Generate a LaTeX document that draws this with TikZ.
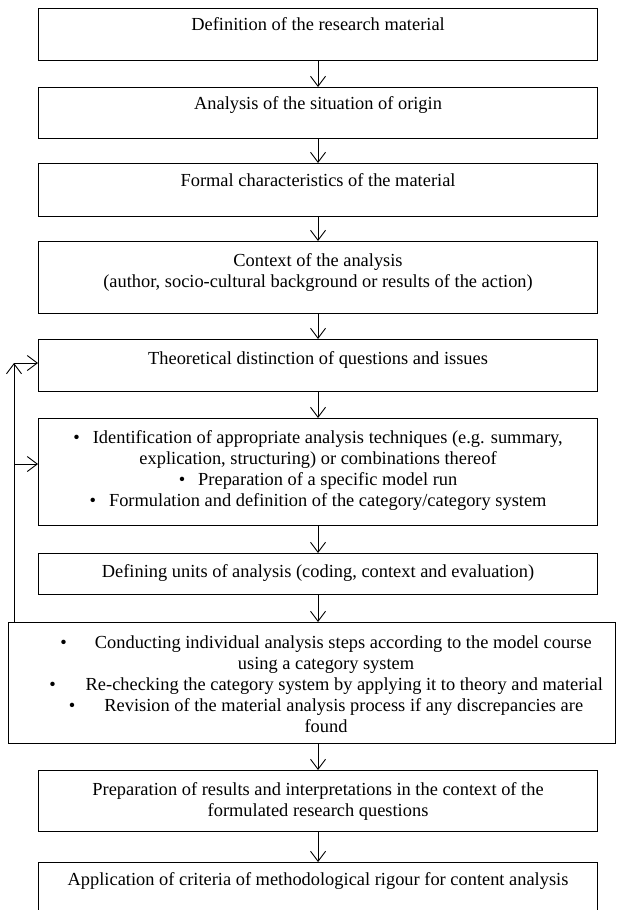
\documentclass[tikz,border=0pt]{standalone}
\usepackage{fontspec}
\setmainfont{Liberation Serif}
\usetikzlibrary{arrows.meta}
\begin{document}
\begin{tikzpicture}[x=1pt,y=-1pt,
  box/.style={draw=black, line width=1.1pt, rectangle, inner sep=0pt, anchor=north west, minimum width=559pt},
  txt/.style={anchor=north, align=center, inner sep=0pt, font=\fontsize{18.4}{21}\selectfont},
  flow/.style={draw=black, line width=0.9pt, -{Straight Barb[length=10pt,width=15pt,line width=0.9pt]}}
]
\useasboundingbox (0,0) rectangle (616,910);
\clip (0,0) rectangle (616,910);
% boxes
\node[box, minimum height=52pt] (b1) at (38,8) {};
\node[box, minimum height=51pt] (b2) at (38,87) {};
\node[box, minimum height=53pt] (b3) at (38,163) {};
\node[box, minimum height=72pt] (b4) at (38,241) {};
\node[box, minimum height=52pt] (b5) at (38,339) {};
\node[box, minimum height=107pt] (b6) at (38,418) {};
\node[box, minimum height=41pt] (b7) at (38,553) {};
\node[box, minimum width=607pt, minimum height=121pt] (b8) at (8,622) {};
\node[box, minimum height=61pt] (b9) at (38,770) {};
\node[box, minimum height=70pt] (b10) at (38,862) {};
% texts
\node[txt] (t1) at ([yshift=-8pt]b1.north) {\strut Definition of the research material};
\node[txt] (t2) at ([yshift=-8pt]b2.north) {\strut Analysis of the situation of origin};
\node[txt] (t3) at ([yshift=-9pt]b3.north) {\strut Formal characteristics of the material};
\node[txt] (t4) at ([yshift=-11pt]b4.north) {\strut Context of the analysis\\
  \strut (author, socio-cultural background or results of the action)};
\node[txt] (t5) at ([yshift=-11pt]b5.north) {\strut Theoretical distinction of questions and issues};
\node[txt] (t6) at ([yshift=-11pt]b6.north) {\strut\textbullet\hspace{13pt}Identification of appropriate analysis techniques (e.g. summary,\\
  \strut explication, structuring) or combinations thereof\\
  \strut\textbullet\hspace{13pt}Preparation of a specific model run\\
  \strut\textbullet\hspace{13pt}Formulation and definition of the category/category system};
\node[txt] (t8) at ([xshift=8pt,yshift=-12pt]b8.north -| b7.south) {\strut\textbullet\hspace{28pt}Conducting individual analysis steps according to the model course\\
  \strut using a category system\\
  \strut\textbullet\hspace{30pt}Re-checking the category system by applying it to theory and material\\
  \strut\textbullet\hspace{29pt}Revision of the material analysis process if any discrepancies are\\
  \strut found};
\node[txt] (t7) at ([yshift=-10pt]b7.north) {\strut Defining units of analysis (coding, context and evaluation)};
\node[txt] (t9) at ([yshift=-11pt]b9.north) {\strut Preparation of results and interpretations in the context of the\\
  \strut formulated research questions};
\node[txt] (t10) at ([yshift=-9pt]b10.north) {\strut Application of criteria of methodological rigour for content analysis};
% arrows
\draw[flow] (b1.south) -- (b2.north);
\draw[flow] (b2.south) -- (b3.north);
\draw[flow] (b3.south) -- (b4.north);
\draw[flow] (b4.south) -- (b5.north);
\draw[flow] (b5.south) -- (b6.north);
\draw[flow] (b6.south) -- (b7.north);
\draw[flow] (b7.south) -- (b7.south |- b8.north);
\draw[flow] (b9.north |- b8.south) -- (b9.north);
\draw[flow] (b9.south) -- (b10.north);
% feedback loop
\coordinate (fbb) at (14,622);
\coordinate (fbt) at (14,363);
\coordinate (fbm) at (14,464);
\draw[flow] (fbb) -- (fbt);
\draw[flow] (fbt) -- (fbt -| b5.west);
\draw[flow] (fbm) -- (fbm -| b6.west);
\end{tikzpicture}
\end{document}
